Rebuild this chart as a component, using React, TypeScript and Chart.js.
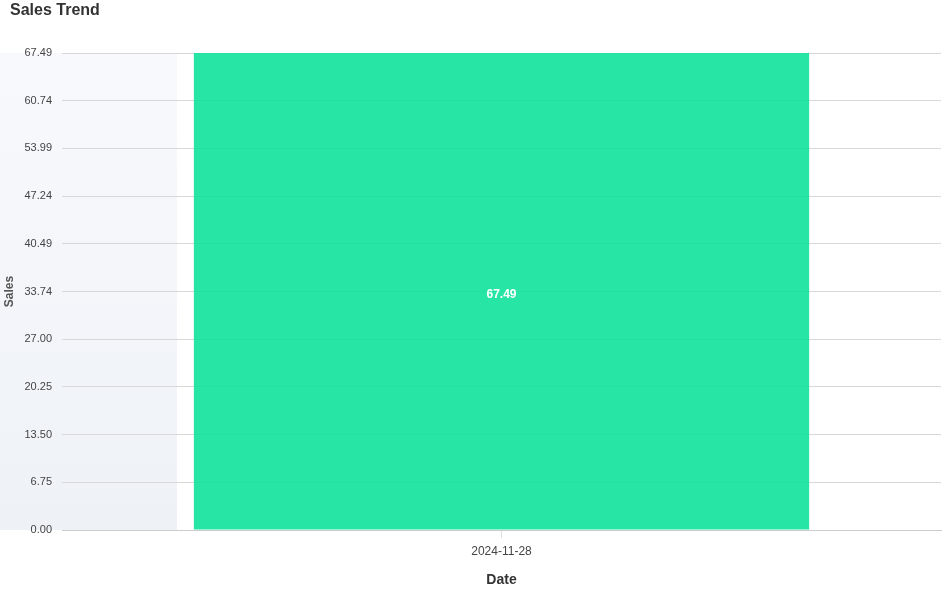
import React, { useEffect, useRef } from "react";
import { Chart, registerables } from "chart.js";

Chart.register(...registerables);

const categories = ["2024-11-28"];
const salesValues = [67.49];
const yMax = 67.49;
const tickCount = 11;
const chartTitle = "Sales Trend";
const xTitle = "Date";
const yTitle = "Sales";

const FONT = "'Liberation Sans', Arial, Helvetica, sans-serif";

const bgPlugin = {
  id: "leftBand",
  beforeDraw(chart: any) {
    const { ctx, chartArea } = chart;
    const right = chartArea.left + chartArea.width * 0.1308;
    const g = ctx.createLinearGradient(0, chartArea.top, 0, chartArea.bottom);
    g.addColorStop(0, "#f8f9fc");
    g.addColorStop(1, "#eef2f7");
    ctx.save();
    ctx.fillStyle = g;
    ctx.fillRect(0, chartArea.top, right, chartArea.bottom - chartArea.top);
    ctx.restore();
  },
};

const titlePlugin = {
  id: "customTitle",
  afterDraw(chart: any) {
    const { ctx } = chart;
    ctx.save();
    ctx.font = `bold 16px ${FONT}`;
    ctx.fillStyle = "#333333";
    ctx.textBaseline = "middle";
    ctx.textAlign = "left";
    ctx.fillText(chartTitle, 10, 11);
    ctx.restore();
  },
};

const labelPlugin = {
  id: "barLabels",
  afterDatasetsDraw(chart: any) {
    const { ctx } = chart;
    const meta = chart.getDatasetMeta(0);
    ctx.save();
    ctx.font = `bold 12px ${FONT}`;
    ctx.fillStyle = "#ffffff";
    ctx.textAlign = "center";
    ctx.textBaseline = "middle";
    meta.data.forEach((bar: any, i: number) => {
      const v = salesValues[i];
      const y = (bar.y + bar.base) / 2 + 3;
      ctx.fillText(v.toFixed(2), bar.x, y);
    });
    ctx.restore();
  },
};

export default function App() {
  const ref = useRef<HTMLCanvasElement | null>(null);
  useEffect(() => {
    document.body.style.margin = "0";
    const chart = new Chart(ref.current as HTMLCanvasElement, {
      type: "bar",
      data: {
        labels: categories,
        datasets: [
          {
            label: yTitle,
            data: salesValues,
            backgroundColor: "rgba(16, 227, 155, 0.9)",
            borderWidth: 0,
            barPercentage: 0.7,
            categoryPercentage: 1.0,
          },
        ],
      },
      options: {
        animation: false,
        responsive: false,
        maintainAspectRatio: false,
        layout: { padding: { top: 53, right: 10, left: 0, bottom: 0 } },
        plugins: {
          legend: { display: false },
          title: { display: false },
          tooltip: { enabled: false },
        },
        scales: {
          x: {
            afterFit: (s: any) => {
              s.height = 60;
            },
            grid: { display: true, offset: false, drawOnChartArea: false, drawTicks: true, tickLength: 8, color: "#dddddd" },
            border: { color: "#cccccc" },
            ticks: { color: "#444444", font: { family: FONT, size: 12 }, padding: 6 },
            title: {
              display: true,
              text: xTitle,
              color: "#333333",
              font: { family: FONT, size: 14, weight: "bold" },
              padding: { top: 13.2, bottom: 1.6 },
            },
          },
          y: {
            min: 0,
            max: yMax,
            afterFit: (s: any) => {
              s.width = 62;
            },
            grid: { color: "#d8d8d8", drawTicks: false },
            border: { display: false },
            ticks: {
              count: tickCount,
              color: "#444444",
              padding: 10,
              font: { family: FONT, size: 11 },
              callback: (v: any) => Number(v).toFixed(2),
            },
            title: {
              display: true,
              text: yTitle,
              color: "#555555",
              font: { family: FONT, size: 12, weight: "bold" },
              padding: { top: 2, bottom: 7.6 },
            },
          },
        },
      },
      plugins: [bgPlugin, labelPlugin, titlePlugin],
    });
    return () => chart.destroy();
  }, []);
  return <canvas ref={ref} width={951} height={590} style={{ display: "block" }} />;
}
